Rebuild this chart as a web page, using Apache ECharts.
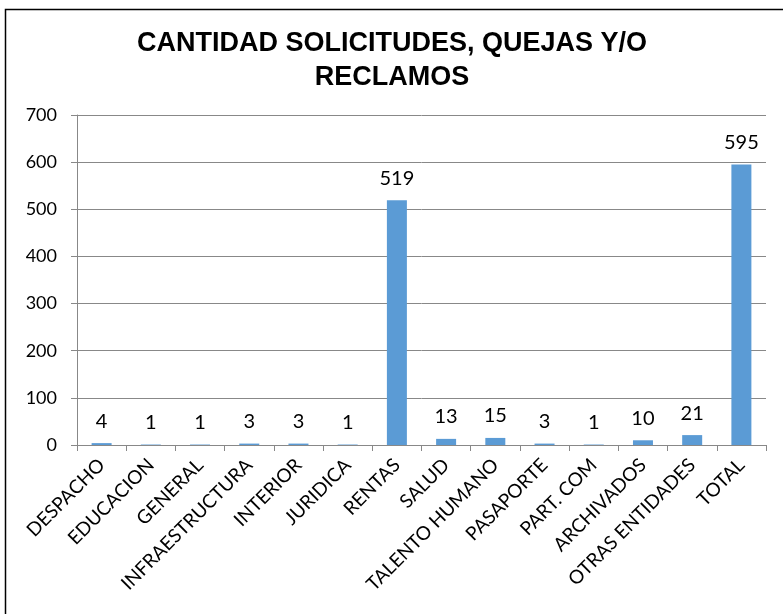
<!DOCTYPE html>
<html>
<head>
<meta charset="utf-8">
<script src="https://cdn.jsdelivr.net/npm/echarts@6/dist/echarts.min.js"></script>
<style>
  html, body { margin: 0; padding: 0; background: #fff; }
  #chart { width: 783px; height: 614px; }
</style>
</head>
<body>
<div id="chart"></div>
<script>
var categories = ['DESPACHO', 'EDUCACION', 'GENERAL', 'INFRAESTRUCTURA', 'INTERIOR', 'JURIDICA', 'RENTAS',
    'SALUD', 'TALENTO HUMANO', 'PASAPORTE', 'PART. COM', 'ARCHIVADOS', 'OTRAS ENTIDADES', 'TOTAL'];
var values = [4, 1, 1, 3, 3, 1, 519, 13, 15, 3, 1, 10, 21, 595];

var myChart = echarts.init(document.getElementById('chart'));
var option = {
    animation: false,
    title: {
        text: 'CANTIDAD SOLICITUDES, QUEJAS Y/O\nRECLAMOS',
        left: 387,
        textAlign: 'center',
        top: 22,
        textStyle: {
            fontFamily: 'Liberation Sans',
            fontWeight: 'bold',
            fontSize: 27,
            lineHeight: 34,
            color: '#000'
        }
    },
    graphic: [{
        type: 'rect',
        shape: { x: 5.5, y: 9.5, width: 800, height: 700 },
        style: { fill: 'none', stroke: '#000', lineWidth: 1.5 },
        silent: true
    }],
    grid: { left: 77, right: 17, top: 115, bottom: 169 },
    xAxis: {
        type: 'category',
        data: categories,
        axisLine: { lineStyle: { color: '#888' } },
        axisTick: { show: true, alignWithLabel: false, length: 6, lineStyle: { color: '#888' } },
        axisLabel: {
            interval: 0,
            rotate: 45,
            fontFamily: 'Lato',
            fontSize: 19,
            color: '#000',
            margin: 17
        }
    },
    yAxis: {
        type: 'value',
        min: 0,
        max: 700,
        interval: 100,
        axisLine: { show: true, lineStyle: { color: '#888' } },
        axisTick: { show: true, length: 6, lineStyle: { color: '#888' } },
        splitLine: { lineStyle: { color: '#888' } },
        axisLabel: {
            fontFamily: 'Lato',
            fontSize: 18,
            color: '#000',
            margin: 20
        }
    },
    series: [{
        type: 'bar',
        data: values,
        barWidth: 20,
        itemStyle: { color: '#5B9BD5' },
        label: {
            show: true,
            position: 'top',
            distance: 12,
            fontFamily: 'Lato',
            fontSize: 20,
            color: '#000'
        }
    }]
};
myChart.setOption(option);
</script>
</body>
</html>
